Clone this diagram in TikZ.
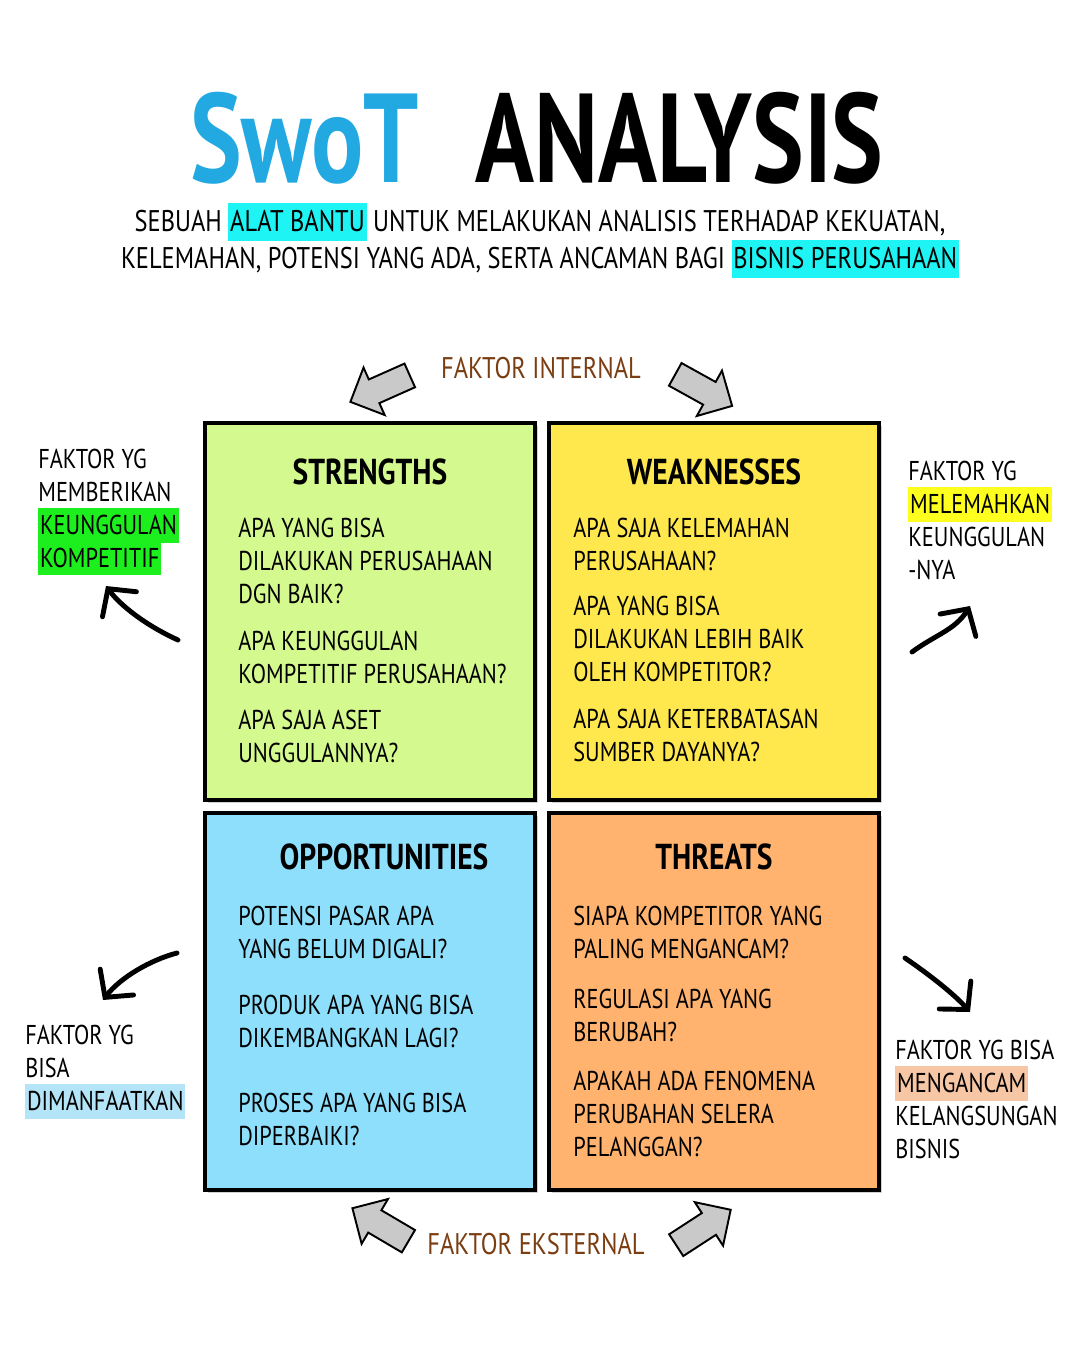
\documentclass[tikz,border=0pt]{standalone}
\usepackage{fontspec}
\setmainfont{PT Sans}[FakeStretch=0.82]
\newfontfamily\titlefont{PT Sans}[FakeStretch=0.77]
\usetikzlibrary{arrows.meta,positioning,shapes.arrows,shadows}
\definecolor{swotBlue}{HTML}{22A9E1}
\definecolor{faktorBrown}{HTML}{7A3E12}
\definecolor{strFill}{HTML}{D4F98E}
\definecolor{weakFill}{HTML}{FFE84D}
\definecolor{oppFill}{HTML}{8EDFFB}
\definecolor{thrFill}{HTML}{FFB36E}
\definecolor{hlCyan}{HTML}{1FF4F4}
\definecolor{hlGreen}{HTML}{1DEE1D}
\definecolor{hlYellow}{HTML}{FFFF1F}
\definecolor{hlBlue}{HTML}{B3E4F7}
\definecolor{hlPeach}{HTML}{F7C6A5}
\definecolor{arrowGray}{HTML}{C9C9C9}
\newcommand{\hilite}[2]{\smash{\fboxsep=0pt\colorbox{#1}{\rule[-0.3em]{0pt}{1.28em}\kern1pt#2\kern1pt}}}

\begin{document}
\begin{tikzpicture}[
  x=0.02cm, y=-0.02cm,
  quad/.style={draw=black, line width=2.6pt, minimum width=6.6cm,
    minimum height=7.54cm, inner sep=0pt,
    drop shadow={shadow xshift=1.5pt, shadow yshift=-1.5pt, opacity=0.35}},
  head/.style={font=\fontsize{20.5}{24}\selectfont\bfseries, inner sep=0pt},
  ques/.style={font=\fontsize{15.5}{18.7}\selectfont, align=left,
    anchor=north west, inner sep=0pt},
  note/.style={ques},
  faktor/.style={font=\fontsize{17}{20}\selectfont, text=faktorBrown, inner sep=0pt},
  bigarrow/.style={single arrow, draw=black, fill=arrowGray, line width=1.1pt,
    minimum height=1.3cm, inner sep=0.24cm, single arrow head extend=0.26cm},
  handarrow/.style={line width=2.8pt, line cap=round, line join=round,
    -{Straight Barb[length=11pt, width=24pt, line cap=round]}},
]
  \useasboundingbox (0,0) rectangle (1080,1349);
  \fill[white] (0,0) rectangle (1080,1349);

  % Title
  \node[font=\titlefont\fontsize{72}{80}\selectfont\bfseries,
    text=swotBlue, anchor=base west, inner sep=0pt] (titleA) at (190,182) {SwoT};
  \node[font=\titlefont\fontsize{72}{80}\selectfont\bfseries,
    anchor=base west, inner sep=0pt] (titleB) at (475,182) {ANALYSIS};
  \node[font=\fontsize{17}{21}\selectfont, align=center, inner sep=0pt]
    (subtitle) at (540,242) {SEBUAH \hilite{hlCyan}{ALAT BANTU} UNTUK MELAKUKAN ANALISIS TERHADAP KEKUATAN,\\
    KELEMAHAN, POTENSI YANG ADA, SERTA ANCAMAN BAGI \hilite{hlCyan}{BISNIS PERUSAHAAN}};

  % Faktor labels and block arrows
  \node[faktor] (intern) at (541,368) {FAKTOR INTERNAL};
  \node[faktor] (extern) at (536,1244) {FAKTOR EKSTERNAL};
  \node[bigarrow, rotate=204] (arrTL) at (386,386) {};
  \node[bigarrow, rotate=-29] (arrTR) at (698,387) {};
  \node[bigarrow, rotate=149.5] (arrBL) at (386,1228) {};
  \node[bigarrow, rotate=33] (arrBR) at (698,1231) {};

  % Quadrants
  \node[quad, fill=strFill] (str) at (370,611.5) {};
  \node[quad, fill=weakFill] (weak) at (714,611.5) {};
  \node[quad, fill=oppFill] (opp) at (370,1001.5) {};
  \node[quad, fill=thrFill] (thr) at (714,1001.5) {};

  \node[head] (strHead) at (370,472) {STRENGTHS};
  \node[head] (weakHead) at (714,472) {WEAKNESSES};
  \node[head] (oppHead) at (384,857) {OPPORTUNITIES};
  \node[head] (thrHead) at (714,857) {THREATS};

  % Strengths
  \node[ques] (strA) at (238,518) {APA YANG BISA\\DILAKUKAN PERUSAHAAN\\DGN BAIK?};
  \node[ques] (strB) at (238,631) {APA KEUNGGULAN\\KOMPETITIF PERUSAHAAN?};
  \node[ques] (strC) at (238,710) {APA SAJA ASET\\UNGGULANNYA?};

  % Weaknesses
  \node[ques] (weakA) at (573,518) {APA SAJA KELEMAHAN\\PERUSAHAAN?};
  \node[ques] (weakB) at (573,596) {APA YANG BISA\\DILAKUKAN LEBIH BAIK\\OLEH KOMPETITOR?};
  \node[ques] (weakC) at (573,709) {APA SAJA KETERBATASAN\\SUMBER DAYANYA?};

  % Opportunities
  \node[ques] (oppA) at (238,906) {POTENSI PASAR APA\\YANG BELUM DIGALI?};
  \node[ques] (oppB) at (238,995) {PRODUK APA YANG BISA\\DIKEMBANGKAN LAGI?};
  \node[ques] (oppC) at (238,1093) {PROSES APA YANG BISA\\DIPERBAIKI?};

  % Threats
  \node[ques] (thrA) at (573,906) {SIAPA KOMPETITOR YANG\\PALING MENGANCAM?};
  \node[ques] (thrB) at (573,989) {REGULASI APA YANG\\BERUBAH?};
  \node[ques] (thrC) at (573,1071) {APAKAH ADA FENOMENA\\PERUBAHAN SELERA\\PELANGGAN?};

  % Side notes
  \node[note] (noteS) at (38,449) {FAKTOR YG\\MEMBERIKAN\\\hilite{hlGreen}{KEUNGGULAN}\\\hilite{hlGreen}{KOMPETITIF}};
  \node[note] (noteW) at (908,461) {FAKTOR YG\\\hilite{hlYellow}{MELEMAHKAN}\\KEUNGGULAN\\-NYA};
  \node[note] (noteO) at (25,1025) {FAKTOR YG\\BISA\\\hilite{hlBlue}{DIMANFAATKAN}};
  \node[note] (noteT) at (895,1040) {FAKTOR YG BISA\\\hilite{hlPeach}{MENGANCAM}\\KELANGSUNGAN\\BISNIS};

  % Hand drawn arrows
  \coordinate (sTail) at (178,640);
  \coordinate (sTip) at (106,586);
  \coordinate (wTail) at (912,652);
  \coordinate (wTip) at (970,606);
  \coordinate (oTail) at (177,953);
  \coordinate (oTip) at (103,1000);
  \coordinate (tTail) at (905,958);
  \coordinate (tTip) at (970,1012);
  \draw[handarrow] (sTail) .. controls (145,625) and (120,605) .. (sTip);
  \draw[handarrow] (wTail) .. controls (935,635) and (955,630) .. (wTip);
  \draw[handarrow] (oTail) .. controls (150,960) and (120,978) .. (oTip);
  \draw[handarrow] (tTail) .. controls (930,975) and (955,995) .. (tTip);
\end{tikzpicture}
\end{document}
